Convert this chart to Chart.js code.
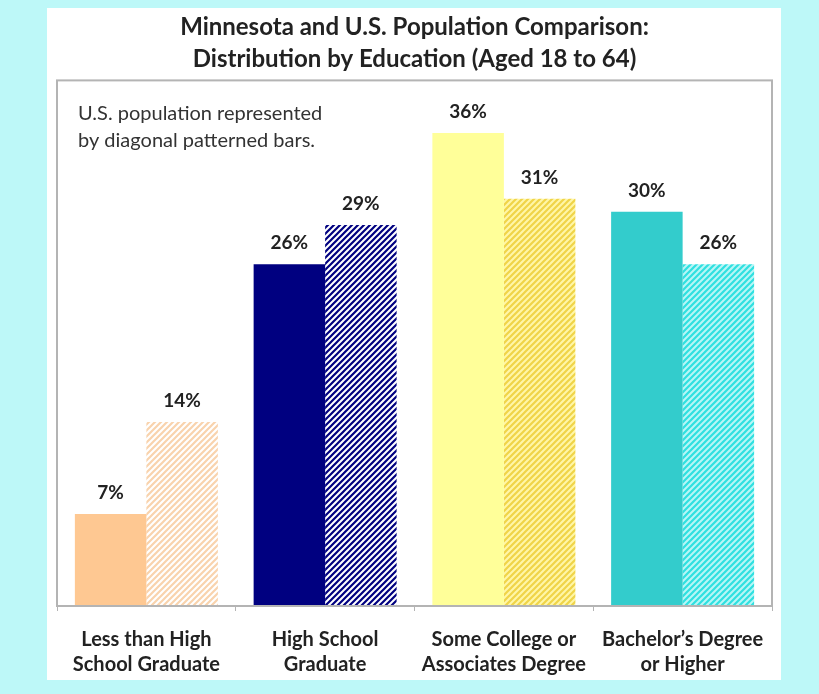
<!DOCTYPE html>
<html>
<head>
<meta charset="utf-8">
<title>Minnesota and U.S. Population Comparison</title>
<script src="https://cdn.jsdelivr.net/npm/chart.js@4.4.1/dist/chart.umd.min.js"></script>
<style>
    html, body { margin: 0; padding: 0; background: #bdf8f8; }
    #panel {
        position: absolute;
        left: 47px; top: 8px;
        width: 734px; height: 672px;
        background: #ffffff;
    }
    #edu-chart { display: block; }
</style>
</head>
<body>
<div id="panel">
    <canvas id="edu-chart" width="734" height="672"></canvas>
</div>
<script>
// Education levels, ages 18 to 64 (percent of population)
const categories = [
    ['Less than High', 'School Graduate'],
    ['High School', 'Graduate'],
    ['Some College or', 'Associates Degree'],
    ['Bachelor\u2019s Degree', 'or Higher']
];
const minnesotaValues = [7, 26, 36, 30];
const usValues = [14, 29, 31, 26];
const yTicks = [0, 40];

const titleLines = [
    'Minnesota and U.S. Population Comparison:',
    'Distribution by Education (Aged 18 to 64)'
];
const noteLines = ['U.S. population represented', 'by diagonal patterned bars.'];

// Solid fills for Minnesota, stripe/gap pairs for the U.S. bars
const solidColors = ['#fec892', '#000080', '#ffff99', '#33cccc'];
const stripeColors = [
    ['#f9d3ad', '#ffffff'],
    ['#000080', '#ffffff'],
    ['#f0d448', '#fff6a8'],
    ['#2fe0e0', '#b8f6f6']
];

const FONT = 'Lato, "Open Sans", sans-serif';

// Diagonal "/" stripes as a repeating canvas pattern
function makeHatch(stripe, gap) {
    const size = 6;
    const tile = document.createElement('canvas');
    tile.width = size;
    tile.height = size;
    const g = tile.getContext('2d');
    g.fillStyle = gap;
    g.fillRect(0, 0, size, size);
    g.strokeStyle = stripe;
    g.lineWidth = 2.2;
    g.beginPath();
    g.moveTo(-1, size + 1); g.lineTo(size + 1, -1);
    g.moveTo(-1, 1); g.lineTo(1, -1);
    g.moveTo(size - 1, size + 1); g.lineTo(size + 1, size - 1);
    g.stroke();
    return g.createPattern(tile, 'repeat');
}

const hatchPatterns = stripeColors.map(p => makeHatch(p[0], p[1]));

// Frame around the plot area, the note text and the value labels
const decorations = {
    id: 'decorations',
    afterDatasetsDraw(chart) {
        const ctx = chart.ctx;
        const area = chart.chartArea;
        ctx.save();

        ctx.strokeStyle = '#b4b4b4';
        ctx.lineWidth = 2;
        ctx.strokeRect(area.left, area.top, area.right - area.left, area.bottom - area.top);

        ctx.fillStyle = '#333333';
        ctx.font = '20px ' + FONT;
        ctx.textAlign = 'left';
        ctx.textBaseline = 'middle';
        noteLines.forEach((line, i) => {
            ctx.fillText(line, area.left + 21, area.top + 33 + i * 27);
        });

        ctx.fillStyle = '#222222';
        ctx.font = 'bold 19px ' + FONT;
        ctx.textAlign = 'center';
        chart.data.datasets.forEach((ds, di) => {
            chart.getDatasetMeta(di).data.forEach((bar, i) => {
                ctx.fillText(ds.data[i] + '%', bar.x, bar.y - 21);
            });
        });
        ctx.restore();
    }
};

const ctx = document.getElementById('edu-chart').getContext('2d');
const eduChart = new Chart(ctx, {
    type: 'bar',
    data: {
        labels: categories,
        datasets: [
            {
                label: 'Minnesota',
                data: minnesotaValues,
                backgroundColor: solidColors,
                borderWidth: 0
            },
            {
                label: 'U.S.',
                data: usValues,
                backgroundColor: hatchPatterns,
                borderWidth: 0
            }
        ]
    },
    options: {
        responsive: false,
        animation: false,
        layout: {
            padding: { left: 10, right: 9, top: 0, bottom: -13 }
        },
        datasets: {
            bar: { categoryPercentage: 0.8, barPercentage: 1.0 }
        },
        plugins: {
            legend: { display: false },
            tooltip: { enabled: false },
            title: {
                display: true,
                text: titleLines,
                color: '#222222',
                font: { family: FONT, size: 24, weight: 'bold', lineHeight: 1.3 },
                padding: { top: 4, bottom: 6 }
            }
        },
        scales: {
            x: {
                grid: {
                    display: true,
                    drawOnChartArea: false,
                    drawTicks: true,
                    tickLength: 5,
                    color: '#b4b4b4'
                },
                border: { display: false },
                ticks: {
                    color: '#222222',
                    padding: 16,
                    maxRotation: 0,
                    font: { family: FONT, size: 20, weight: 'bold', lineHeight: 1.25 }
                }
            },
            y: {
                display: false,
                min: yTicks[0],
                max: yTicks[yTicks.length - 1]
            }
        }
    },
    plugins: [decorations]
});
</script>
</body>
</html>
